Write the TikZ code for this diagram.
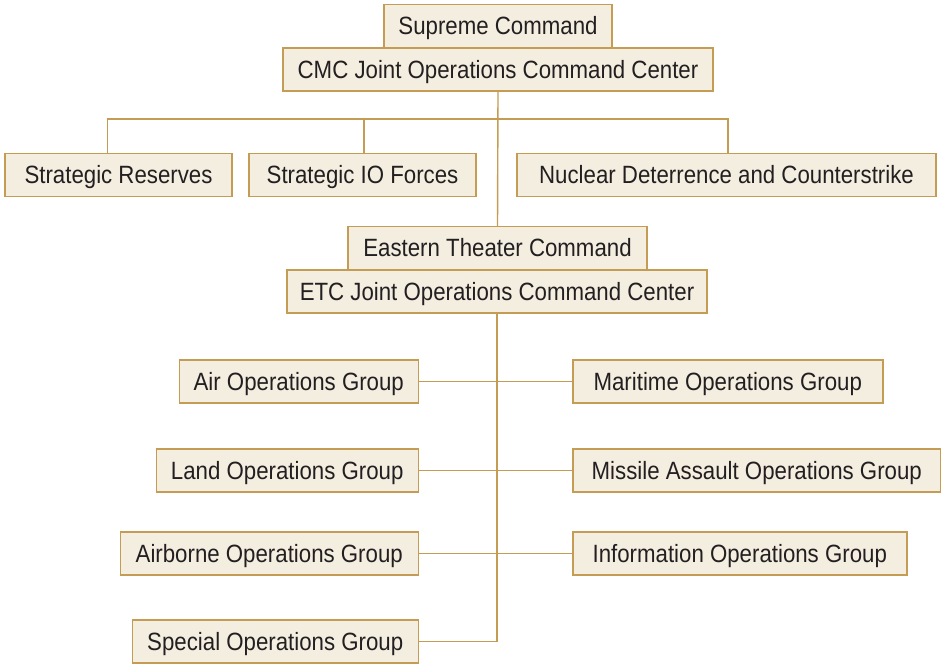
\documentclass[tikz,border=0pt]{standalone}
\usepackage{fontspec}
\setmainfont{Liberation Sans}[FakeStretch=0.89]
\usepackage{xcolor}
\definecolor{orggold}{RGB}{196,156,84}
\definecolor{orgcream}{RGB}{244,238,225}
\definecolor{orgtext}{RGB}{35,31,32}

\begin{document}
\begin{tikzpicture}[x=1pt, y=-1pt,
    unit/.style={draw=orggold, fill=orgcream, line width=1.5pt, inner sep=0pt,
        minimum height=43pt, text height=17pt, text depth=-1pt, text=orgtext,
        font=\fontsize{25}{28}\selectfont},
    link/.style={draw=orggold, line width=1.4pt}]
    \useasboundingbox (0,0) rectangle (941,664);

    % Central Military Commission
    \node[unit, minimum width=228pt] (sup) at (498,26) {Supreme Command};
    \node[unit, minimum width=430pt] (cmc) at (498,69.5) {CMC Joint Operations Command Center};

    % Strategic forces
    \node[unit, minimum width=227pt] (res) at (118.5,175) {Strategic Reserves};
    \node[unit, minimum width=227pt] (iof) at (362.5,175) {Strategic IO Forces};
    \node[unit, minimum width=419pt] (nuc) at (726.5,175) {Nuclear Deterrence and Counterstrike};

    % Theater command
    \node[unit, minimum width=299pt] (etc) at (497.5,248) {Eastern Theater Command};
    \node[unit, minimum width=420pt] (etcj) at (497,291.5) {ETC Joint Operations Command Center};

    % Operations groups, left
    \node[unit, minimum width=239pt, anchor=east] (air) at (419,381.5) {Air Operations Group};
    \node[unit, minimum width=262pt, anchor=east] (land) at (419,470.5) {Land Operations Group};
    \node[unit, minimum width=298pt, anchor=east] (abn) at (419,553.5) {Airborne Operations Group};
    \node[unit, minimum width=286pt, anchor=east] (spec) at (419,641.5) {Special Operations Group};

    % Operations groups, right
    \node[unit, minimum width=310pt, anchor=west] (mar) at (572,381.5) {Maritime Operations Group};
    \node[unit, minimum width=368pt, anchor=west] (msl) at (572,470.5) {Missile Assault Operations Group};
    \node[unit, minimum width=334pt, anchor=west] (info) at (572,553.5) {Information Operations Group};

    % Connectors
    \coordinate (bus) at (498,119);
    \draw[link] (cmc.south) -- (etc.north);
    \draw[link] ([xshift=-11pt]res.north) |- (bus) -| ([xshift=1.5pt]nuc.north);
    \draw[link] ([xshift=1.5pt]iof.north) -- ++(0,-35);
    \draw[link] (etcj.south) |- (spec.east);
    \draw[link] (air.east) -- (mar.west);
    \draw[link] (land.east) -- (msl.west);
    \draw[link] (abn.east) -- (info.west);
\end{tikzpicture}
\end{document}
